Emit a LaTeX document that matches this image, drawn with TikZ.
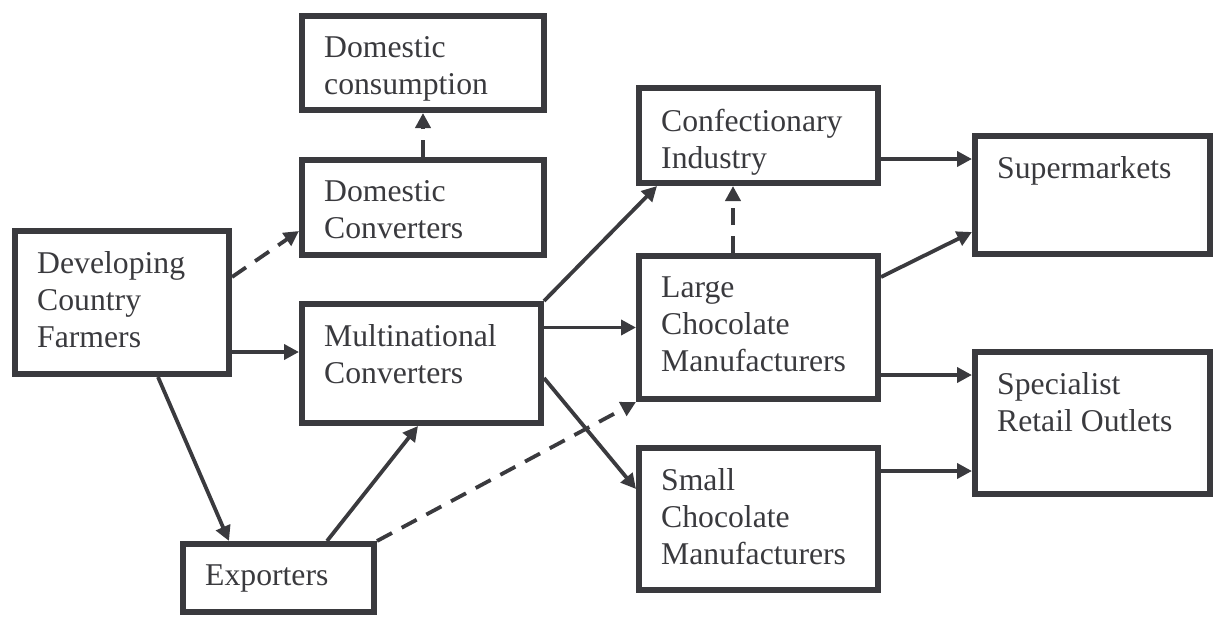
\documentclass[tikz,border=0pt]{standalone}
\usepackage{fontspec}
\setmainfont{Liberation Serif}
\usepackage{tikz}
\usetikzlibrary{arrows.meta,calc}
\definecolor{ink}{RGB}{58,58,62}
\tikzset{
	flow/.style={
		-{Triangle[length=15pt,width=15pt]},
		line width=3.8pt,
		draw=ink
	},
	maybeflow/.style={
		flow,
		dash pattern=on 17pt off 11pt
	}
}

\begin{document}
\begin{tikzpicture}[x=1pt, y=-1pt]

	\useasboundingbox (0, 0) rectangle (1213, 616);

	\begin{scope}[
		box/.style 2 args={draw=ink, line width=6pt, inner sep=0pt, minimum width=#1, minimum height=#2},
		tag/.style={anchor=north west, inner sep=0pt, align=left, text=ink, font=\fontsize{31.7pt}{37pt}\selectfont}
	]

		%% Boxes
		\node[box={214pt}{143pt}] (farmers) at (122, 302.5) {};
		\node[box={242pt}{94pt}] (domcons) at (423, 63) {};
		\node[box={242pt}{95pt}] (domconv) at (423, 207.5) {};
		\node[box={239pt}{119pt}] (multi) at (421.5, 363.5) {};
		\node[box={191pt}{68pt}] (exporters) at (278.5, 578) {};
		\node[box={239pt}{95pt}] (confec) at (758.5, 135.5) {};
		\node[box={239pt}{143pt}] (large) at (758.5, 327.5) {};
		\node[box={239pt}{142pt}] (small) at (758.5, 519) {};
		\node[box={234.5pt}{118pt}] (super) at (1092.25, 195) {};
		\node[box={234.5pt}{142pt}] (special) at (1092.25, 423) {};

		% Box texts
		\node[tag] (farmers-t) at ([shift={(25, 23.5)}]farmers.north west) {Developing\\Country\\Farmers};
		\node[tag] (domcons-t) at ([shift={(25, 23.5)}]domcons.north west) {Domestic\\consumption};
		\node[tag] (domconv-t) at ([shift={(25, 23.5)}]domconv.north west) {Domestic\\Converters};
		\node[tag] (multi-t) at ([shift={(25, 23.5)}]multi.north west) {Multinational\\Converters};
		\node[tag] (exporters-t) at ([shift={(25, 23.5)}]exporters.north west) {Exporters};
		\node[tag] (confec-t) at ([shift={(25, 23.5)}]confec.north west) {Confectionary\\Industry};
		\node[tag] (large-t) at ([shift={(25, 23.5)}]large.north west) {Large\\Chocolate\\Manufacturers};
		\node[tag] (small-t) at ([shift={(25, 23.5)}]small.north west) {Small\\Chocolate\\Manufacturers};
		\node[tag] (super-t) at ([shift={(25, 23.5)}]super.north west) {Supermarkets};
		\node[tag] (special-t) at ([shift={(25, 23.5)}]special.north west) {Specialist\\Retail Outlets};

		%% Flows out of the farms
		\draw[maybeflow] ([yshift=25.5pt]farmers.east) -- ([yshift=-23.5pt]domconv.west);
		\draw[maybeflow] (domconv.north) -- (domcons.south);
		\draw[flow] ([yshift=-49.5pt]farmers.east) -- ([yshift=-49.5pt]farmers.east -| multi.west);
		\draw[flow] ([xshift=36pt]farmers.south) -- ([xshift=-49.5pt]exporters.north);
		\draw[flow] ([xshift=48.5pt]exporters.north) -- ([xshift=-3.5pt]multi.south);
		\draw[maybeflow] (exporters.north east) -- (large.south west);

		%% Flows out of the converters
		\draw[flow] (multi.north east) -- ([xshift=21pt]confec.south west);
		\draw[flow] (large.west -| multi.east) -- (large.west);
		\draw[flow] ([yshift=-14.5pt]multi.east) -- ([yshift=30pt]small.west);
		\draw[maybeflow] ([xshift=-25.5pt]large.north) -- ([xshift=-25.5pt]confec.south);

		%% Flows to the shops
		\draw[flow] ([yshift=-23.5pt]confec.east) -- ([yshift=-23.5pt]confec.east -| super.west);
		\draw[flow] ([yshift=50.5pt]large.east) -- ([yshift=-37pt]super.west);
		\draw[flow] ([yshift=-47.5pt]large.east) -- ([yshift=-47.5pt]large.east -| special.west);
		\draw[flow] ([yshift=48pt]small.east) -- ([yshift=48pt]small.east -| special.west);

	\end{scope}

\end{tikzpicture}
\end{document}
